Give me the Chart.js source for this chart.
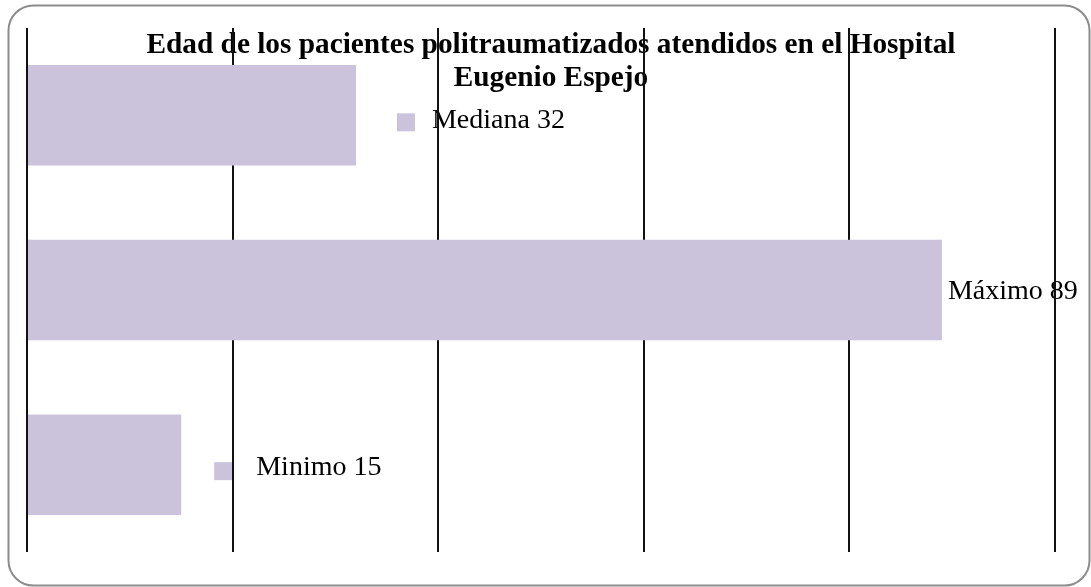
<!DOCTYPE html>
<html>
<head>
<meta charset="utf-8">
<script src="https://cdn.jsdelivr.net/npm/chart.js@4/dist/chart.umd.min.js"></script>
<style>
html,body{margin:0;padding:0;background:#fff;}
#wrap{width:1091px;height:587px;position:relative;}
</style>
</head>
<body>
<div id="wrap"><canvas id="c" width="1091" height="587"></canvas></div>
<script>
const categories = ["Mediana", "Máximo", "Minimo"];
const values = [32, 89, 15];
const labelTexts = ["Mediana 32", "Máximo 89", "Minimo 15"];
const showMarker = [true, false, true];
const titleLines = ["Edad de los pacientes politraumatizados atendidos en el Hospital", "Eugenio Espejo"];
const xMin = 0, xMax = 100, xStep = 20;

const BAR_COLOR = '#CBC3DB';
// per-label placement (px) relative to bar end / bar centre
const labelStyle = [
  {markerDx: 41, textDx: 76, markerDy: -2, textDy: 12.5},
  {markerDx: 0,  textDx: 6,  markerDy: 0,  textDy: 8.5},
  {markerDx: 33, textDx: 75, markerDy: -2.5, textDy: 10.5}
];

function roundRect(ctx, x, y, w, h, r) {
  ctx.beginPath();
  ctx.moveTo(x + r, y);
  ctx.lineTo(x + w - r, y);
  ctx.arcTo(x + w, y, x + w, y + r, r);
  ctx.lineTo(x + w, y + h - r);
  ctx.arcTo(x + w, y + h, x + w - r, y + h, r);
  ctx.lineTo(x + r, y + h);
  ctx.arcTo(x, y + h, x, y + h - r, r);
  ctx.lineTo(x, y + r);
  ctx.arcTo(x, y, x + r, y, r);
  ctx.closePath();
}

const underlayPlugin = {
  id: 'underlay',
  beforeDraw(chart) {
    const ctx = chart.ctx;
    ctx.save();
    ctx.fillStyle = '#fff';
    ctx.fillRect(0, 0, chart.width, chart.height);
    // frame
    ctx.strokeStyle = '#8c8c8c';
    ctx.lineWidth = 2;
    roundRect(ctx, 8.5, 5.5, 1081, 580, 25);
    ctx.stroke();
    // title
    ctx.fillStyle = '#000';
    ctx.textAlign = 'center';
    ctx.textBaseline = 'alphabetic';
    ctx.font = 'bold 29.3px "Liberation Serif", "Times New Roman", serif';
    ctx.fillText(titleLines[0], 551, 53);
    ctx.fillText(titleLines[1], 551, 86);
    // data labels
    const xs = chart.scales.x, ys = chart.scales.y;
    ctx.textAlign = 'left';
    ctx.font = '28px "Liberation Serif", "Times New Roman", serif';
    values.forEach((v, i) => {
      const st = labelStyle[i];
      const xEnd = xs.getPixelForValue(v);
      const yc = ys.getPixelForValue(i);
      if (showMarker[i]) {
        ctx.fillStyle = BAR_COLOR;
        ctx.fillRect(xEnd + st.markerDx, yc + st.markerDy, 18, 18);
      }
      ctx.fillStyle = '#000';
      ctx.fillText(labelTexts[i], xEnd + st.textDx, yc + st.textDy);
    });
    ctx.restore();
  }
};

new Chart(document.getElementById('c'), {
  type: 'bar',
  data: {
    labels: categories,
    datasets: [{
      data: values,
      backgroundColor: BAR_COLOR,
      borderWidth: 0,
      categoryPercentage: 1,
      barPercentage: 0.575
    }]
  },
  options: {
    indexAxis: 'y',
    responsive: false,
    animation: false,
    devicePixelRatio: 1,
    layout: {padding: {left: 27, top: 28, right: 36, bottom: 35}},
    plugins: {legend: {display: false}, title: {display: false}, tooltip: {enabled: false}},
    scales: {
      x: {
        min: xMin, max: xMax,
        ticks: {display: false, stepSize: xStep},
        grid: {color: '#111', lineWidth: 2, drawTicks: false},
        border: {display: false}
      },
      y: {
        display: false,
        grid: {display: false}
      }
    }
  },
  plugins: [underlayPlugin]
});
</script>
</body>
</html>
